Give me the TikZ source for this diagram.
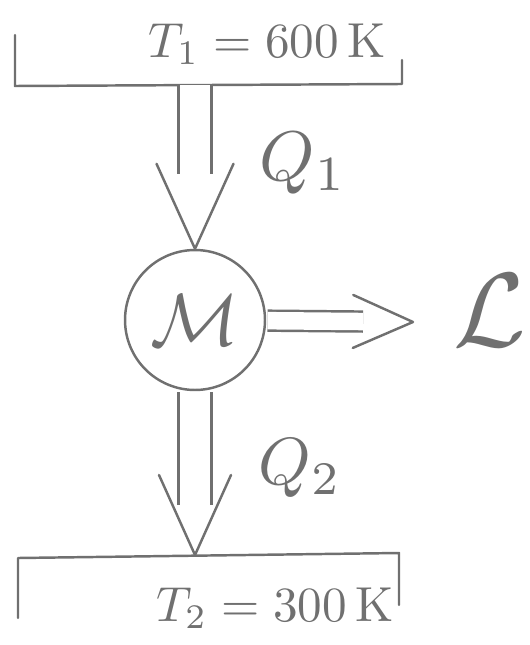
\documentclass[tikz,border=0pt]{standalone}
\usetikzlibrary{arrows.meta, positioning, calc, decorations.markings}

\definecolor{pencil}{RGB}{112,112,112}

\begin{document}
\begin{tikzpicture}[
  x=0.02cm, y=-0.02cm,
  pen/.style={draw=pencil, line width=1.4pt, line cap=round, line join=round},
  engine/.style={circle, pen, minimum size=2.8cm, inner sep=0pt, text=pencil},
  lbl/.style={text=pencil, inner sep=0pt},
  flow/.style n args={4}{
    preaction={pen, line cap=butt, double=white, double distance=#1,
      shorten <=0.7pt, shorten >=#2},
    postaction={decorate, decoration={markings,
      mark=at position 1 with {\draw[pen] (-#3,#4) -- (0,0) -- (-#3,-#4);}}}
  }
]
\useasboundingbox (0,0) rectangle (529,645);

% Hot reservoir
\draw[pen] (15,35) -- (15,86) -- (402,84) -- (402,60);
\coordinate (hot) at (195,84);
\node[lbl] (hotT) at (267,44) {\scalebox{2.8}{$T_1 = 600\,\mathrm{K}$}};

% Engine
\node[engine] (eng) at (195,320) {\scalebox{4.2}{$\mathcal{M}$}};

% Cold reservoir
\draw[pen] (18,618) -- (18,558) -- (399,553) -- (399,605);
\coordinate (cold) at (195,555);
\node[lbl] (coldT) at (275,608) {\scalebox{2.8}{$T_2 = 300\,\mathrm{K}$}};

% Work output
\coordinate (wtip) at (413,322);
\node[lbl] (work) at (490,310) {\scalebox{6}{$\mathcal{L}$}};

% Heat and work flows
\path[flow={0.61cm}{1.5cm}{1.7cm}{0.77cm}] (hot) -- (eng);
\path[flow={0.61cm}{1.0cm}{1.6cm}{0.72cm}] (eng) -- (cold);
\path[flow={0.35cm}{1.0cm}{1.2cm}{0.53cm}] (eng) -- (wtip);

% Labels
\node[lbl] (q1) at (303,163) {\scalebox{4}{$Q_1$}};
\node[lbl] (q2) at (300,468) {\scalebox{3.8}{$Q_2$}};

\end{tikzpicture}
\end{document}
